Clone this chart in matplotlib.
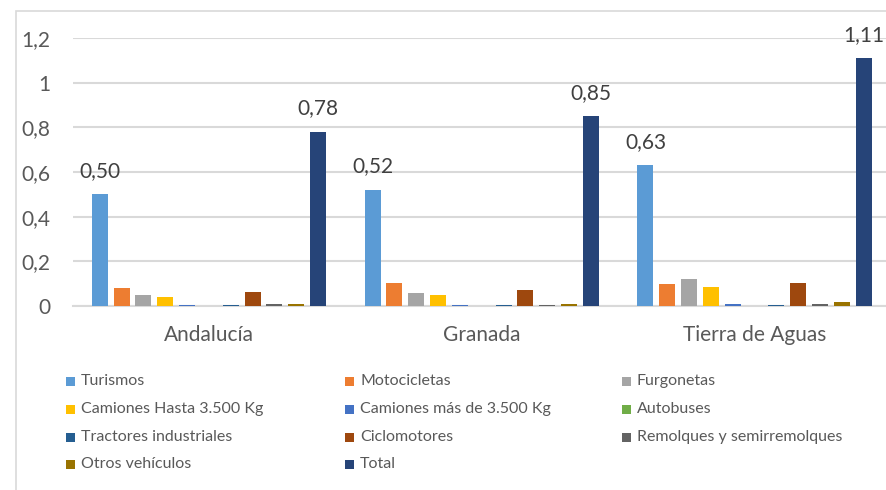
import matplotlib
matplotlib.use("Agg")
import matplotlib.pyplot as plt
from matplotlib.patches import Rectangle
import numpy as np

plt.rcParams['font.family'] = ['Lato', 'DejaVu Sans']

regions = ["Andalucía", "Granada", "Tierra de Aguas"]

series_names = [
    "Turismos", "Motocicletas", "Furgonetas",
    "Camiones Hasta 3.500 Kg", "Camiones más de 3.500 Kg", "Autobuses",
    "Tractores industriales", "Ciclomotores", "Remolques y semirremolques",
    "Otros vehículos", "Total",
]
colors = [
    "#5B9BD5", "#ED7D31", "#A5A5A5", "#FFC000", "#4472C4", "#70AD47",
    "#255E91", "#9E480E", "#636363", "#997300", "#264478",
]

turismos = [0.50, 0.52, 0.63]
motocicletas = [0.079, 0.105, 0.097]
furgonetas = [0.048, 0.060, 0.123]
camiones_hasta = [0.042, 0.048, 0.085]
camiones_mas = [0.005, 0.005, 0.011]
autobuses = [0.0, 0.0, 0.0]
tractores = [0.003, 0.003, 0.004]
ciclomotores = [0.063, 0.072, 0.103]
remolques = [0.008, 0.005, 0.011]
otros = [0.007, 0.008, 0.017]
total = [0.78, 0.85, 1.11]

values = [turismos, motocicletas, furgonetas, camiones_hasta, camiones_mas,
          autobuses, tractores, ciclomotores, remolques, otros, total]
labelled = {"Turismos", "Total"}

W, H = 886, 490
fig = plt.figure(figsize=(W / 100, H / 100), dpi=100)

# outer chart frame (cropped on right / bottom)
fig.patches.append(Rectangle((16 / W, -0.2), 2, 1.2 - 11 / H,
                             transform=fig.transFigure, fill=False,
                             edgecolor="#D9D9D9", linewidth=1.2))

ax = fig.add_axes([72.5 / W, 1 - 306 / H, (891 - 72.5) / W, 268 / H])

x = np.arange(len(regions))
pitch = 0.08
width = 0.059
n = len(series_names)
for i, (name, vals) in enumerate(zip(series_names, values)):
    pos = x + (i - (n - 1) / 2) * pitch
    ax.bar(pos, vals, width, color=colors[i], zorder=3)
    if name in labelled:
        for px, v in zip(pos, vals):
            ax.text(px, v + 0.06, f"{v:.2f}".replace(".", ","), ha="center",
                    va="bottom", fontsize=15, color="#404040", clip_on=False)

ax.set_ylim(0, 1.2)
ax.set_xlim(-0.5, 2.5)
yt = [0, 0.2, 0.4, 0.6, 0.8, 1.0, 1.2]
ax.set_yticks(yt)
ax.set_yticklabels([("%g" % t).replace(".", ",") for t in yt],
                   fontsize=15, color="#595959")
ax.set_xticks(x)
ax.set_xticklabels(regions, fontsize=15, color="#595959")
ax.tick_params(axis="y", length=0, pad=16)
ax.tick_params(axis="x", length=0, pad=14)
ax.grid(axis="y", color="#D9D9D9", linewidth=1.5, zorder=0)
for s in ["top", "right", "left"]:
    ax.spines[s].set_visible(False)
ax.spines["bottom"].set_color("#D9D9D9")
ax.spines["bottom"].set_linewidth(1.5)

# legend, row-wise in three columns
col_x = [66, 345, 622]
row_y = [381, 409, 437, 464]
sq = 9
for i, name in enumerate(series_names):
    r, c = divmod(i, 3)
    mx, my = col_x[c], row_y[r]
    fig.patches.append(Rectangle((mx / W, 1 - (my + sq / 2) / H), sq / W, sq / H,
                                 transform=fig.transFigure, facecolor=colors[i],
                                 edgecolor="none"))
    fig.text((mx + sq + 6) / W, 1 - my / H, name, ha="left", va="center",
             fontsize=11.5, color="#595959")

fig.savefig("out.png", dpi=100)
